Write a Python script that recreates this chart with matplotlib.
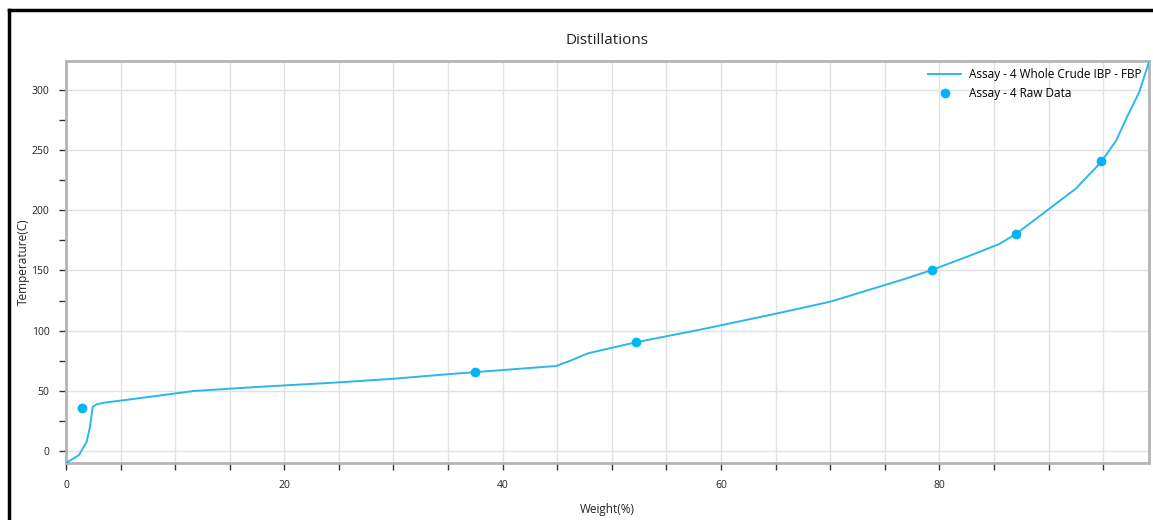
import matplotlib.pyplot as plt
from matplotlib.ticker import MultipleLocator
from matplotlib.lines import Line2D

plt.rcParams['font.family'] = ['Open Sans', 'DejaVu Sans']

# curve
weight = [0, 1.2, 1.9, 2.2, 2.45, 2.9, 3.5, 6, 11.7, 17.9, 25, 30, 35.3, 37.5, 44.9,
          46.2, 47.8, 52.2, 58.2, 65, 70, 76.5, 79.3, 83, 85.5, 87, 89.9, 92.5, 94.8,
          96.2, 97.2, 98.3, 99.2]
temp = [-10, -3.3, 7.7, 20, 36.8, 39, 40.1, 43, 49.8, 53.4, 57, 60, 64, 65.5, 70.6,
        75, 81.1, 90.3, 101, 114, 124, 142, 150.3, 163, 172, 180.2, 200, 218, 239.8,
        258, 277.7, 298, 323]

# raw data points
raw_weight = [1.5, 37.5, 52.2, 79.3, 87.0, 94.8]
raw_temp = [35.5, 65.5, 90.5, 150.3, 180.2, 240.5]

line_color = '#2cb8e6'
dot_color = '#00b5f1'

fig = plt.figure(figsize=(11.53, 5.2), dpi=100)
ax = fig.add_axes([0.0572, 0.1096, 0.9393, 0.7731])

ax.plot(weight, temp, color=line_color, lw=1.4, label='Assay - 4 Whole Crude IBP - FBP', zorder=3)
ax.plot(raw_weight, raw_temp, 'o', color=dot_color, ms=7, mec='none', label='Assay - 4 Raw Data', zorder=4)

ax.set_xlim(0, 99.2)
ax.set_ylim(-10, 324)
ax.xaxis.set_major_locator(MultipleLocator(20))
ax.xaxis.set_minor_locator(MultipleLocator(5))
ax.yaxis.set_major_locator(MultipleLocator(50))
ax.yaxis.set_minor_locator(MultipleLocator(25))

ax.grid(True, which='major', color='#e1e1e1', lw=1)
ax.grid(True, which='minor', axis='x', color='#e1e1e1', lw=1)
ax.set_axisbelow(True)

ax.tick_params(which='both', direction='out', length=5, width=1, color='#333333',
               labelsize=7.5, labelcolor='#222222', pad=7)
for s in ax.spines.values():
    s.set_color('#b4b4b4')
    s.set_linewidth(2.0)

ax.set_title('Distillations', fontsize=11, pad=12, color='#222222')
ax.set_xlabel('Weight(%)', fontsize=8.5, color='#222222', labelpad=9)
ax.set_ylabel('Temperature(C)', fontsize=8.5, color='#222222', labelpad=1)

ax.legend(loc='upper right', frameon=False, fontsize=8.5, handlelength=2.8,
          handletextpad=0.7, borderaxespad=0.2, labelspacing=0.5)

# black frame around the screenshot (left and top edges visible)
fig.add_artist(Line2D([0.008, 0.008], [0, 0.98], color='black', lw=2.5, transform=fig.transFigure))
fig.add_artist(Line2D([0.008, 1.0], [0.98, 0.98], color='black', lw=2.5, transform=fig.transFigure))

fig.savefig('out.png', dpi=100)
